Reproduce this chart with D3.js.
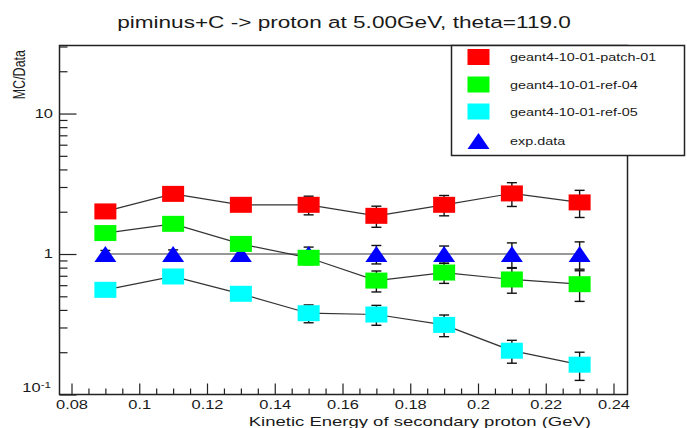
<!DOCTYPE html>
<html>
<head>
<meta charset="utf-8">
<script src="https://cdn.jsdelivr.net/npm/d3@7"></script>
<style>
  html, body { margin: 0; padding: 0; background: #fff; }
  svg { display: block; font-family: "Liberation Sans", Arial, Helvetica, sans-serif; }
</style>
</head>
<body>
<svg id="chart" width="687" height="428"></svg>
<script>
// Kinetic energy bins of the secondary proton (GeV)
const energies = [0.09, 0.11, 0.13, 0.15, 0.17, 0.19, 0.21, 0.23];

// MC/Data ratios per Geant4 version, with their errors
const patch01 = [2.01, 2.68, 2.24, 2.24, 1.87, 2.24, 2.70, 2.33];
const patch01Err = [0.15, 0.20, 0.20, 0.34, 0.32, 0.37, 0.52, 0.51];
const ref04 = [1.41, 1.64, 1.18, 0.94, 0.647, 0.738, 0.659, 0.61];
const ref04Err = [0.08, 0.10, 0.09, 0.10, 0.11, 0.12, 0.133, 0.15];
const ref05 = [0.556, 0.692, 0.521, 0.379, 0.371, 0.313, 0.205, 0.163];
const ref05Err = [0.03, 0.04, 0.035, 0.055, 0.06, 0.055, 0.038, 0.037];

// Experimental reference (unity) and its relative errors
const expData = [1, 1, 1, 1, 1, 1, 1, 1];
const expErr = [0.06, 0.07, 0.08, 0.12, 0.15, 0.14, 0.20, 0.22];

// Axis tick labels
const xTickLabels = ["0.08", "0.1", "0.12", "0.14", "0.16", "0.18", "0.2", "0.22", "0.24"];
const yTickValues = [0.1, 1, 10];

const titleText = "piminus+C -> proton at 5.00GeV, theta=119.0";
const xTitle = "Kinetic Energy of secondary proton (GeV)";
const yTitle = "MC/Data";

const series = [
  { name: "geant4-10-01-patch-01", values: patch01, errors: patch01Err, color: "#ff0000", shape: "square" },
  { name: "geant4-10-01-ref-04", values: ref04, errors: ref04Err, color: "#00ff00", shape: "square" },
  { name: "geant4-10-01-ref-05", values: ref05, errors: ref05Err, color: "#00ffff", shape: "square" },
  { name: "exp.data", values: expData, errors: expErr, color: "#0000ff", shape: "triangle" }
];

// The canvas is wide-pixel: glyphs are stretched horizontally
const stretch = 1.37;

const svg = d3.select("#chart");
const frame = { left: 59.5, right: 627.5, top: 45.5, bottom: 394.5 };

// x: 0.08 sits at 71.5px, 0.24 at 613.5px
const xPx = d3.scaleLinear().domain([0.08, 0.24]).range([71.5, 613.5]);
const x = d3.scaleLinear()
  .domain([xPx.invert(frame.left), xPx.invert(frame.right)])
  .range([frame.left, frame.right]);
const y = d3.scaleLog().domain([0.1, 30.5]).range([frame.bottom, frame.top]);

const ink = "#222";

function wideText(parent, px, py, size, anchor, str) {
  return parent.append("text")
    .attr("transform", `translate(${px},${py}) scale(${stretch},1)`)
    .attr("text-anchor", anchor)
    .attr("font-size", size)
    .attr("fill", "#1a1a1a")
    .text(str);
}

// Title
wideText(svg, 344, 28, 16.5, "middle", titleText);

// Frame
svg.append("rect")
  .attr("x", frame.left).attr("y", frame.top)
  .attr("width", frame.right - frame.left)
  .attr("height", frame.bottom - frame.top)
  .attr("fill", "none").attr("stroke", ink).attr("stroke-width", 1.5);

// X axis: major ticks every 0.02, minor every 0.005, pointing inward
const xMajor = xTickLabels.map(Number);
const xMinor = d3.range(0, 33).map(i => 0.08 + i * 0.005)
  .filter(v => !xMajor.some(m => Math.abs(m - v) < 1e-9) && x(v) < frame.right);

const xAxisMinor = d3.axisBottom(x).tickValues(xMinor).tickSize(-6).tickFormat("");
const xAxisMajor = d3.axisBottom(x).tickValues(xMajor).tickSize(-11).tickPadding(6)
  .tickFormat((d, i) => xTickLabels[i]);

svg.append("g").attr("transform", `translate(0,${frame.bottom})`).call(xAxisMinor)
  .call(g => g.select(".domain").remove())
  .call(g => g.selectAll("line").attr("stroke", ink).attr("stroke-width", 1.2));
svg.append("g").attr("transform", `translate(0,${frame.bottom})`).call(xAxisMajor)
  .call(g => g.select(".domain").remove())
  .call(g => g.selectAll("line").attr("stroke", ink).attr("stroke-width", 1.2))
  .call(g => g.selectAll("text")
    .attr("font-size", 12).attr("fill", "#1a1a1a")
    .attr("font-family", "Liberation Sans, Arial, sans-serif")
    .attr("transform", `scale(${stretch},1)`));

// Y axis: decades with 2..9 minor ticks
const yMinor = [];
[0.1, 1, 10].forEach(dec => {
  for (let k = 2; k <= 9; k++) {
    const v = dec * k;
    if (v <= y.domain()[1]) yMinor.push(v);
  }
});
const yAxisMinor = d3.axisLeft(y).tickValues(yMinor).tickSize(-8).tickFormat("");
const yAxisMajor = d3.axisLeft(y).tickValues(yTickValues).tickSize(-17).tickFormat("");

svg.append("g").attr("transform", `translate(${frame.left},0)`).call(yAxisMinor)
  .call(g => g.select(".domain").remove())
  .call(g => g.selectAll("line").attr("stroke", ink).attr("stroke-width", 1.2));
svg.append("g").attr("transform", `translate(${frame.left},0)`).call(yAxisMajor)
  .call(g => g.select(".domain").remove())
  .call(g => g.selectAll("line").attr("stroke", ink).attr("stroke-width", 1.2));

// Y tick labels, 10^-1 with a superscript exponent
yTickValues.forEach(v => {
  if (v < 1) {
    const t = wideText(svg, 51, y(v) - 2.5, 12, "end", null);
    t.append("tspan").text("10");
    t.append("tspan").attr("font-size", 8.5).attr("dy", -4.5).text("-1");
  } else {
    wideText(svg, 53, y(v) + 4.3, 12, "end", String(v));
  }
});

// Axis titles
wideText(svg, 591, 426, 13.5, "end", xTitle);

svg.append("text")
  .attr("transform", `translate(25,50) rotate(-90) scale(1,1.3)`)
  .attr("text-anchor", "end")
  .attr("font-size", 12.5).attr("fill", "#1a1a1a")
  .text(yTitle);

const plot = svg.append("g");

// Marker helpers
const markW = 22, markH = 16;
function drawMarker(g, cx, cy, s) {
  if (s.shape === "square") {
    g.append("rect")
      .attr("x", cx - markW / 2).attr("y", cy - markH / 2)
      .attr("width", markW).attr("height", markH)
      .attr("fill", s.color);
  } else {
    g.append("path")
      .attr("d", `M${cx},${cy - markH / 2}L${cx + markW / 2},${cy + markH / 2}L${cx - markW / 2},${cy + markH / 2}Z`)
      .attr("fill", s.color);
  }
}

// Draw the experimental points first, then the simulated ones on top
const drawOrder = [series[3], series[0], series[1], series[2]];
drawOrder.forEach(s => {
  const g = plot.append("g");
  const pts = energies.map((e, i) => ({ e, v: s.values[i], err: s.errors[i] }));

  // connecting line
  g.append("path")
    .datum(pts)
    .attr("d", d3.line().x(d => x(d.e)).y(d => y(d.v)))
    .attr("fill", "none").attr("stroke", "#333").attr("stroke-width", 1.2);

  // error bars with caps
  pts.forEach(p => {
    const cx = x(p.e), yHi = y(p.v + p.err), yLo = y(p.v - p.err);
    g.append("line").attr("x1", cx).attr("x2", cx).attr("y1", yHi).attr("y2", yLo)
      .attr("stroke", "#111").attr("stroke-width", 1.4);
    [yHi, yLo].forEach(yy => g.append("line")
      .attr("x1", cx - 5).attr("x2", cx + 5).attr("y1", yy).attr("y2", yy)
      .attr("stroke", "#111").attr("stroke-width", 1.4));
  });

  pts.forEach(p => drawMarker(g, x(p.e), y(p.v), s));
});

// Legend
const legend = svg.append("g");
legend.append("rect")
  .attr("x", 451.5).attr("y", 45.5).attr("width", 233).attr("height", 110)
  .attr("fill", "#fff").attr("stroke", ink).attr("stroke-width", 1.5);
const legendRows = [57, 84.5, 111.5, 141];
series.forEach((s, i) => {
  drawMarker(legend, 478.5, legendRows[i], s);
  wideText(legend, 510, legendRows[i] + 4, 10.5, "start", s.name);
});
</script>
</body>
</html>
